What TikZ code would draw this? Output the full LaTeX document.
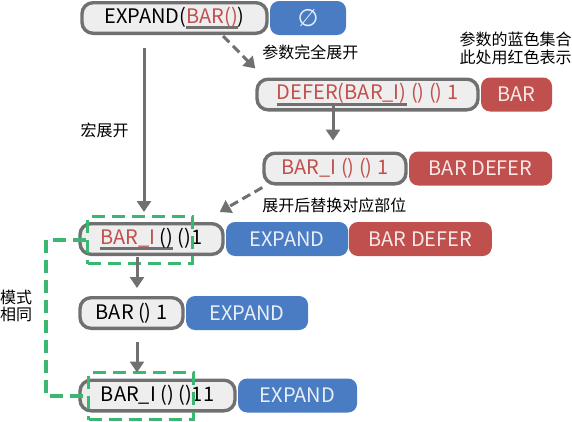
\documentclass[tikz,border=0pt]{standalone}
\usepackage{fontspec}
\setmainfont{Noto Sans CJK SC}
\newfontfamily\symfont{DejaVu Sans}
\usetikzlibrary{positioning,arrows.meta}
\definecolor{boxgray}{RGB}{112,112,112}
\definecolor{boxfill}{RGB}{238,238,238}
\definecolor{tagblue}{RGB}{74,124,196}
\definecolor{tagred}{RGB}{192,80,77}
\definecolor{patgreen}{RGB}{58,184,114}
\newcommand\ulbar[1]{\setbox0\hbox{#1}\rlap{\textcolor{boxgray}{\rule[-6pt]{\wd0}{2.8pt}}}\box0\relax}
\tikzset{every picture/.style={line width=0.75pt},
  codebox/.style={draw=boxgray, line width=3.4pt, fill=boxfill, rounded corners=11pt, minimum height=30.6pt, inner sep=0pt, font=\fontsize{20}{24}\selectfont},
  tagbox/.style={rounded corners=9pt, minimum height=34pt, inner sep=0pt, text=white, text opacity=0.88, font=\fontsize{20}{24}\selectfont},
  bluetag/.style={tagbox, fill=tagblue},
  redtag/.style={tagbox, fill=tagred},
  flow/.style={draw=boxgray, line width=3pt, -{Triangle[width=14pt,length=11pt]}},
  flowdash/.style={flow, dash pattern=on 9pt off 5pt},
  patbox/.style={draw=patgreen, line width=3.3pt, dash pattern=on 13pt off 7pt, inner sep=0pt},
  note/.style={font=\fontsize{16}{17.5}\selectfont, inner sep=0pt, align=left}}

\begin{document}
\begin{tikzpicture}[x=1pt,y=1pt,yscale=-1,xscale=1]
\useasboundingbox (0,0) rectangle (572,421);

%Code boxes
\node[codebox, minimum width=185pt] (e1) at (174.5,18) {EXPAND(\textcolor{tagred}{\ulbar{BAR()}})};
\node[codebox, minimum width=221pt] (d2) at (367.5,94.5) {\textcolor{tagred}{\ulbar{DEFER(BAR\_I)} () () 1}};
\node[codebox, minimum width=142pt] (b3) at (335,168.5) {\textcolor{tagred}{BAR\_I () () 1}};
\node[codebox, minimum width=143pt] (b4) at (151.5,239) {\ulbar{\textcolor{tagred}{BAR\_I} ()} ()1};
\node[codebox, minimum width=103pt] (b5) at (131.5,313) {BAR () 1};
\node[codebox, minimum width=155pt] (b6) at (157.5,395.5) {BAR\_I () ()11};

%Tags
\node[bluetag, minimum width=76pt, right=1pt of e1] (s1) {\symfont\fontsize{24}{24}\selectfont ∅};
\node[redtag, minimum width=71pt, right=1pt of d2] (s2) {BAR};
\node[redtag, minimum width=143pt, right=1pt of b3] (s3) {BAR DEFER};
\node[bluetag, minimum width=122pt, right=1pt of b4] (s4) {EXPAND};
\node[redtag, minimum width=143pt, right=0pt of s4] (s4r) {BAR DEFER};
\node[bluetag, minimum width=122pt, right=1pt of b5] (s5) {EXPAND};
\node[bluetag, minimum width=119pt, right=1pt of b6] (s6) {EXPAND};

%Pattern frames
\node[patbox, minimum width=105pt, minimum height=47pt] (p1) at (140,240) {};
\node[patbox, minimum width=105pt, minimum height=47pt] (p2) at (141,396) {};
\coordinate (pc) at (46,240);
\draw[patbox] (p1.west) -- (pc) |- (p2.west);

%Arrows
\draw[flow] ([xshift=-30.5pt,yshift=13pt]e1.south) -- ([xshift=-7.5pt,yshift=-10pt]b4.north);
\draw[flowdash] ([xshift=48.5pt,yshift=1pt]e1.south) -- ([yshift=-9pt]d2.north west);
\draw[flow] ([xshift=-34.5pt,yshift=-6pt]d2.south) -- ([xshift=-2pt,yshift=-11pt]b3.north);
\draw[flowdash] ([yshift=2pt]b3.south west) -- ([xshift=-5pt,yshift=-10pt]b4.north east);
\draw[flow] ([xshift=-14.5pt,yshift=1pt]b4.south) -- ([xshift=5.5pt,yshift=-8pt]b5.north);
\draw[flow] ([xshift=5.5pt,yshift=12pt]b5.south) -- ([xshift=-20.5pt,yshift=-6pt]b6.north);

% Text Node
\node[note, anchor=west] (l1) at (262,52) {参数完全展开};
\node[note] (l2) at (515.5,48.5) {参数的蓝色集合\\此处用红色表示};
\node[note] (l3) at (104.5,130) {宏展开};
\node[note, anchor=west] (l4) at (262,205) {展开后替换对应部位};
\node[note] (l5) at (16,306) {模式\\相同};

\end{tikzpicture}
\end{document}
